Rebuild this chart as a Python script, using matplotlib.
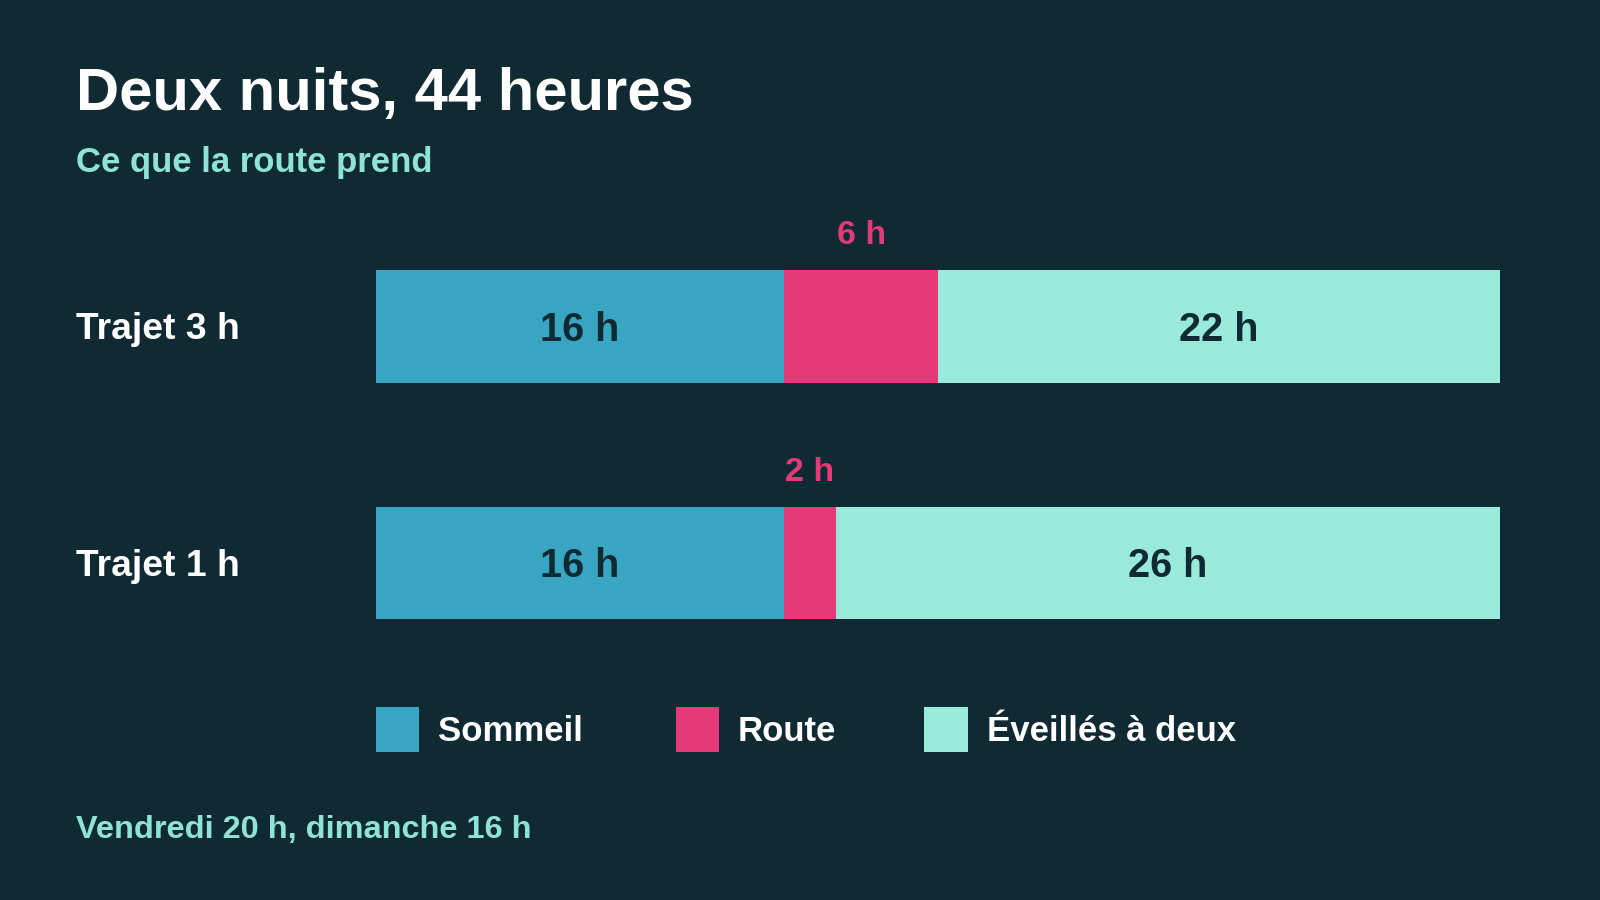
import matplotlib
matplotlib.use("Agg")
import matplotlib.pyplot as plt
from matplotlib.patches import Rectangle

# ---- data ----
categories = ["Trajet 3 h", "Trajet 1 h"]
series_names = ["Sommeil", "Route", "Éveillés à deux"]
sommeil = [16, 16]
route = [6, 2]
eveilles = [22, 26]
total_hours = 44

title = "Deux nuits, 44 heures"
subtitle = "Ce que la route prend"
footer = "Vendredi 20 h, dimanche 16 h"

# ---- style ----
BG = "#102a34"
C_SOMMEIL = "#38a6c3"
C_ROUTE = "#e63a78"
C_EVEIL = "#9aeadc"
C_MINT_TXT = "#8fe3d4"
C_DARK = "#102a34"
FONT = ["Liberation Sans", "DejaVu Sans"]
plt.rcParams["font.family"] = FONT

W, H = 1568.0, 882.0  # reference px frame


def fx(x):
    return x / W


def fy(y):
    return 1 - y / H


fig = plt.figure(figsize=(16, 9), dpi=100, facecolor=BG)

# bars axes: x 368..1470, y 204..668 (two rows, 232 px apart)
ax = fig.add_axes([fx(368), fy(668), fx(1470) - fx(368), fy(204) - fy(668)])
ax.set_facecolor(BG)
ax.set_xlim(0, total_hours)
ax.set_ylim(1.5, -0.5)
ax.axis("off")

ypos = list(range(len(categories)))
bh = 110 / 232
dy = 3 / 232  # small downward nudge for optical centering
left2 = [a + b for a, b in zip(sommeil, route)]
ax.barh(ypos, sommeil, height=bh, color=C_SOMMEIL, linewidth=0)
ax.barh(ypos, route, left=sommeil, height=bh, color=C_ROUTE, linewidth=0)
ax.barh(ypos, eveilles, left=left2, height=bh, color=C_EVEIL, linewidth=0)

for i, y in enumerate(ypos):
    ax.text(sommeil[i] / 2, y + dy, f"{sommeil[i]} h", ha="center", va="center",
            fontsize=28.5, fontweight="bold", color=C_DARK)
    ax.text(left2[i] + eveilles[i] / 2, y + dy, f"{eveilles[i]} h", ha="center", va="center",
            fontsize=28.5, fontweight="bold", color=C_DARK)
    ax.text(sommeil[i] + route[i] / 2, y - 0.40 + 4 / 232, f"{route[i]} h", ha="center",
            va="center", fontsize=24.5, fontweight="bold", color=C_ROUTE)
    # category label
    fig.text(fx(74), fy(323 + 232 * i), categories[i], ha="left", va="center",
             fontsize=26.8, fontweight="bold", color="white")

# title / subtitle / footer
fig.text(fx(74), fy(108), title, ha="left", va="baseline",
         fontsize=43, fontweight="bold", color="white")
fig.text(fx(74), fy(159), subtitle, ha="left", va="center",
         fontsize=25, fontweight="bold", color=C_MINT_TXT)
fig.text(fx(74), fy(813), footer, ha="left", va="center",
         fontsize=23.4, fontweight="bold", color=C_MINT_TXT)

# legend
leg_sq_x = [368, 662, 906]
leg_colors = [C_SOMMEIL, C_ROUTE, C_EVEIL]
for x0, c, name in zip(leg_sq_x, leg_colors, series_names):
    fig.patches.append(Rectangle((fx(x0), fy(737)), fx(43), fy(693) - fy(737),
                                 transform=fig.transFigure, facecolor=c,
                                 edgecolor="none"))
    fig.text(fx(x0 + 61), fy(717), name, ha="left", va="center",
             fontsize=25, fontweight="bold", color="white")

fig.savefig("out.png", dpi=100, facecolor=BG)
